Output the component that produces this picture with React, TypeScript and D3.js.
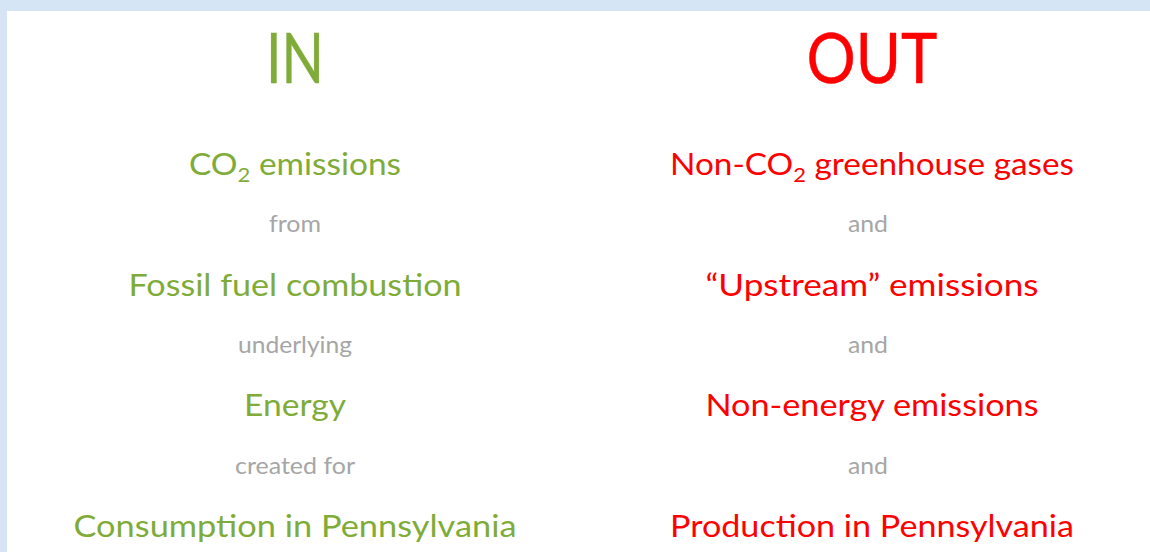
import React from "react";
import * as d3 from "d3";

// Column headings
const headings = ["IN", "OUT"];

// Column lines; "|2|" marks a subscript
const leftLines = [
  "CO|2| emissions",
  "from",
  "Fossil fuel combustion",
  "underlying",
  "Energy",
  "created for",
  "Consumption in Pennsylvania",
];

const rightLines = [
  "Non-CO|2| greenhouse gases",
  "and",
  "“Upstream” emissions",
  "and",
  "Non-energy emissions",
  "and",
  "Production in Pennsylvania",
];

// measured widths of each line in the reference (px)
const leftWidths = [212, 52, 333, 114, 102, 120, 443];
const rightWidths = [404, 40, 333, 40, 333, 40, 404];
const headingWidths = [58, 131];

const W = 1150;
const H = 552;
const FONT = "Lato, 'Open Sans', sans-serif";
const GREEN = "#7fac38";
const RED = "#ff0000";
const GREY = "#a6a6a6";

function Line({ text, x, y, size, color, width }: any) {
  const parts = text.split("|");
  return (
    <text
      x={x}
      y={y}
      textAnchor="middle"
      fontFamily={FONT}
      fontSize={size}
      fill={color}
      textLength={width}
      lengthAdjust="spacingAndGlyphs"
    >
      {parts.map((p: string, i: number) =>
        i % 2 === 1 ? (
          <tspan key={i} fontSize={size * 0.66} dy={size * 0.22}>
            {p}
          </tspan>
        ) : i > 0 ? (
          <tspan key={i} dy={-size * 0.22}>
            {p}
          </tspan>
        ) : (
          <tspan key={i}>{p}</tspan>
        )
      )}
    </text>
  );
}

export default function App() {
  const colX = d3.scalePoint<string>().domain(headings).range([295, 872]);
  const rowY = d3
    .scaleLinear()
    .domain([0, leftLines.length - 1])
    .range([175, 537]);
  const yFor = (i: number) => rowY(i) + (i % 2 === 1 ? -3 : 0);
  const sizeFor = (i: number) => (i % 2 === 1 ? 23 : 30);
  const colorFor = (i: number, col: number) =>
    i % 2 === 1 ? GREY : col === 0 ? GREEN : RED;
  const xShift = (i: number, col: number) => (col === 1 && i % 2 === 1 ? -4 : 0);

  const columns = [leftLines, rightLines];
  const widths = [leftWidths, rightWidths];

  return (
    <svg
      width={W}
      height={H}
      style={{ position: "absolute", left: 0, top: 0, display: "block" }}
    >
      <rect x={0} y={0} width={W} height={H} fill="#d6e5f5" />
      <rect x={7} y={11} width={W - 7} height={H - 11} fill="#ffffff" />
      {headings.map((h, c) => (
        <text
          key={h}
          x={colX(h)}
          y={83}
          textAnchor="middle"
          fontFamily={FONT}
          fontSize={70}
          fill={c === 0 ? GREEN : RED}
          stroke={c === 0 ? GREEN : RED}
          strokeWidth={0.4}
          textLength={headingWidths[c]}
          lengthAdjust="spacingAndGlyphs"
        >
          {h}
        </text>
      ))}
      {columns.map((lines, c) =>
        lines.map((t, i) => (
          <Line
            key={c + "-" + i}
            text={t}
            x={(colX(headings[c]) as number) + xShift(i, c)}
            y={yFor(i)}
            size={sizeFor(i)}
            color={colorFor(i, c)}
            width={widths[c][i]}
          />
        ))
      )}
    </svg>
  );
}
